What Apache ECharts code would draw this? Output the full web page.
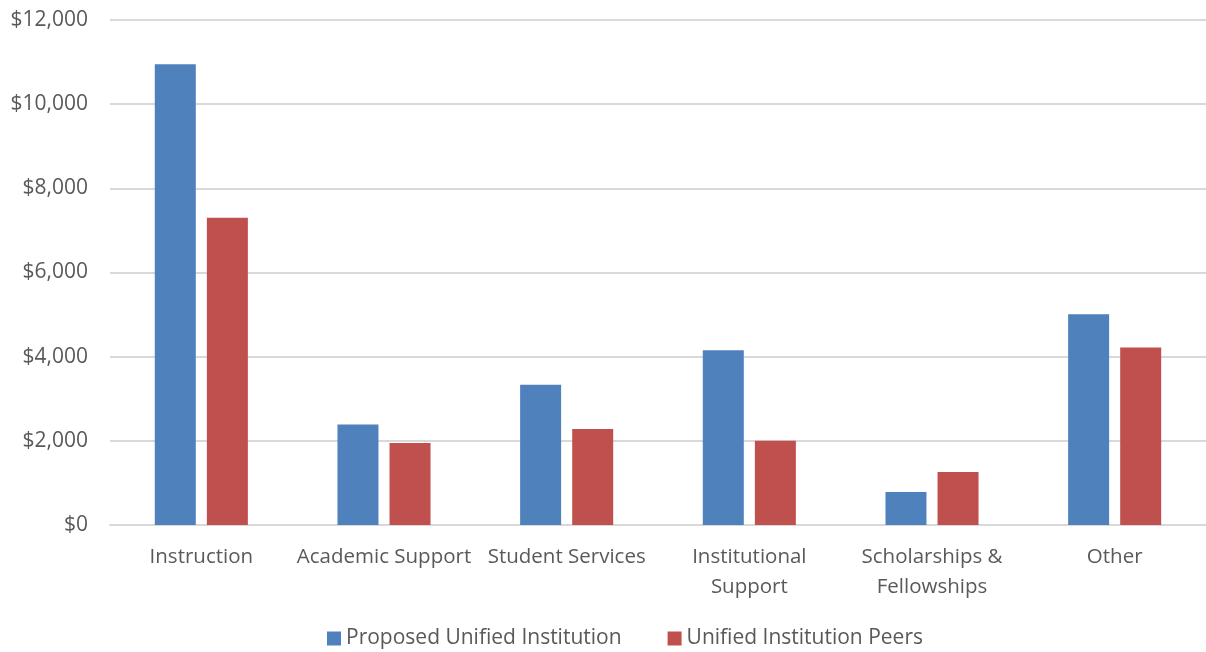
<!DOCTYPE html>
<html>
<head>
<meta charset="utf-8">
<script src="https://cdn.jsdelivr.net/npm/echarts@6/dist/echarts.min.js"></script>
<style>
  html, body { margin: 0; padding: 0; background: #fff; }
  #main { width: 1206px; height: 652px; }
</style>
</head>
<body>
<div id="main"></div>
<script>
// data
var categories = ["Instruction", "Academic Support", "Student Services", "Institutional\nSupport", "Scholarships &\nFellowships", "Other"];
var proposed = [10950, 2390, 3330, 4150, 785, 5010];
var peers = [7300, 1950, 2280, 2000, 1260, 4220];
var seriesNames = ["Proposed Unified Institution", "Unified Institution Peers"];

var textColor = "#595959";
var font = "Open Sans";

var myChart = echarts.init(document.getElementById("main"));
var option = {
  animation: false,
  grid: { left: 110, right: -5, top: 20, bottom: 127, containLabel: false },
  legend: {
    data: seriesNames,
    bottom: -2,
    left: 322,
    itemWidth: 14,
    itemHeight: 14,
    itemGap: 46,
    icon: "rect",
    textStyle: { color: textColor, fontSize: 21, fontFamily: font }
  },
  xAxis: {
    type: "category",
    data: categories,
    axisLine: { lineStyle: { color: "#d9d9d9", width: 2 } },
    axisTick: { show: false },
    axisLabel: { color: textColor, fontSize: 20.5, fontFamily: font, margin: 17, lineHeight: 30, interval: 0 }
  },
  yAxis: {
    type: "value",
    min: 0,
    max: 12000,
    interval: 2000,
    axisLine: { show: false },
    axisTick: { show: false },
    splitLine: { lineStyle: { color: "#d9d9d9", width: 2 } },
    axisLabel: {
      color: textColor, fontSize: 21, fontFamily: font, margin: 22,
      formatter: function (v) { return "$" + v.toLocaleString("en-US"); }
    }
  },
  series: [
    {
      name: seriesNames[0],
      type: "bar",
      data: proposed,
      barWidth: 41,
      barGap: "27%",
      itemStyle: { color: "#4F81BD" }
    },
    {
      name: seriesNames[1],
      type: "bar",
      data: peers,
      barWidth: 41,
      itemStyle: { color: "#C0504D" }
    }
  ]
};
myChart.setOption(option);
</script>
</body>
</html>
